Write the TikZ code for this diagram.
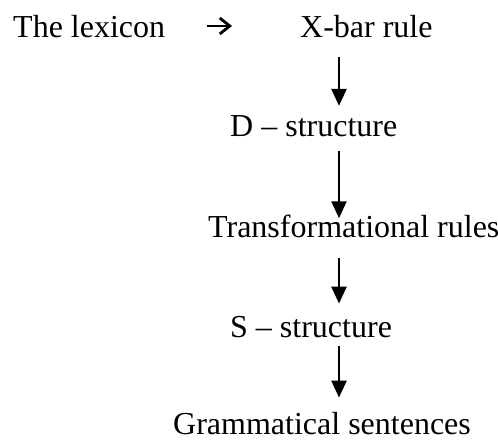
\documentclass[tikz,border=0pt]{standalone}
\usepackage{fontspec}
\setmainfont{Liberation Serif}
\usetikzlibrary{arrows.meta}
\begin{document}
\begin{tikzpicture}[x=1pt,y=-1pt,
  lbl/.style={inner sep=0pt,anchor=base west,font=\fontsize{32}{38}\selectfont},
  down/.style={line width=2.5pt,-{Triangle[width=15pt,length=17pt]}},
  side/.style={line width=2.8pt,-{Straight Barb[width=16pt,length=10pt,line width=2.8pt]}}]
\useasboundingbox (0,0) rectangle (498,443);
\node[lbl] (lex)  at (13,38)  {The lexicon};
\node[lbl] (xbar) at (300,38) {X-bar rule};
\node[lbl] (ds)   at (230,137) {D -- structure};
\node[lbl] (tr)   at (208,238) {Transformational rules};
\node[lbl] (ss)   at (230,338) {S -- structure};
\node[lbl] (gs)   at (173,435) {Grammatical sentences};
\coordinate (ax) at (339,0);
\coordinate (ay) at (0,26);
% arrow from the lexicon to the X-bar rule
\draw[side,shorten <=42pt,shorten >=68pt] (lex.east |- ay) -- (xbar.west |- ay);
% the derivation, top to bottom
\draw[down,shorten <=18pt,shorten >=10pt] (xbar.south -| ax) -- (ds.north -| ax);
\draw[down,shorten <=13pt,shorten >=-3pt] (ds.south -| ax) -- (tr.north -| ax);
\draw[down,shorten <=19pt,shorten >=13pt] (tr.south -| ax) -- (ss.north -| ax);
\draw[down,shorten <=7pt,shorten >=15pt] (ss.south -| ax) -- (gs.north -| ax);
\end{tikzpicture}
\end{document}
